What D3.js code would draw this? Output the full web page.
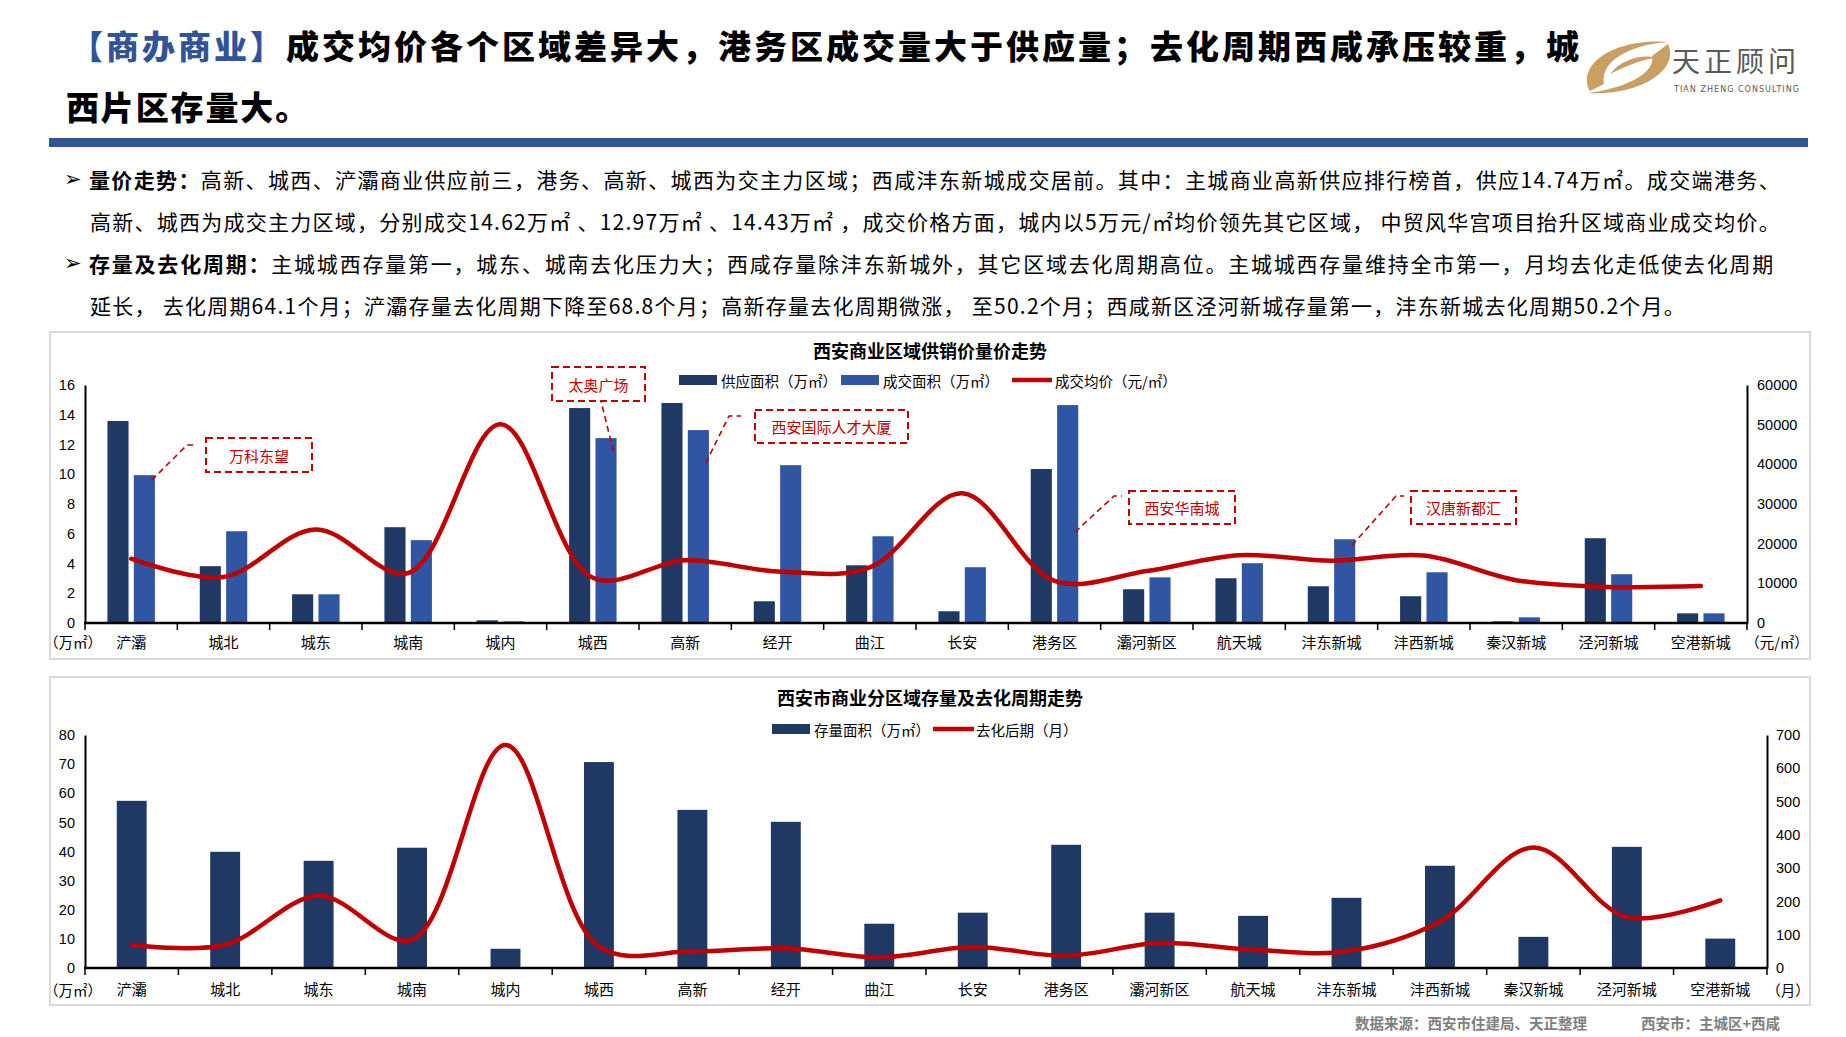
<!DOCTYPE html>
<html><head><meta charset="utf-8">
<script src="https://cdn.jsdelivr.net/npm/d3@7"></script>
<style>
body{margin:0;background:#fff}
svg{display:block}
text{font-family:"Noto Sans CJK SC","Noto Sans",sans-serif}
</style>
</head><body>
<svg id="c" width="1846" height="1037"></svg>
<script>
// ---------------- data ----------------
const categories = ["浐灞","城北","城东","城南","城内","城西","高新","经开","曲江","长安","港务区","灞河新区","航天城","沣东新城","沣西新城","秦汉新城","泾河新城","空港新城"];
const supplyArea = [13.58,3.82,1.93,6.44,0.18,14.45,14.79,1.46,3.88,0.79,10.35,2.27,3.01,2.47,1.80,0.11,5.70,0.65];
const dealArea   = [9.94,6.17,1.93,5.57,0.11,12.43,12.97,10.61,5.83,3.75,14.65,3.07,4.02,5.63,3.41,0.38,3.28,0.65];
const dealPrice  = [16200,11600,23600,12600,50100,11400,15800,13000,14000,32700,10600,13100,17100,15700,17000,10800,9100,9300];
const stockArea  = [57.4,39.9,36.8,41.3,6.6,70.7,54.3,50.2,15.2,19.0,42.3,19.0,17.9,24.1,35.1,10.7,41.6,10.1];
const clearCycle = [68.8,70,217,85,670,64.1,50.2,59,32,63,37,75,55,50.2,140,362,153,203];

const topLeftTicks  = [0,2,4,6,8,10,12,14,16];
const topRightTicks = [0,10000,20000,30000,40000,50000,60000];
const botLeftTicks  = [0,10,20,30,40,50,60,70,80];
const botRightTicks = [0,100,200,300,400,500,600,700];

const annotations = [
  {text:"万科东望", cat:"浐灞", series:"deal"},
  {text:"太奥广场", cat:"城西", series:"deal"},
  {text:"西安国际人才大厦", cat:"高新", series:"deal"},
  {text:"西安华南城", cat:"港务区", series:"deal"},
  {text:"汉唐新都汇", cat:"沣东新城", series:"deal"}
];

const titleBlue = "【商办商业】";
const titleRest1 = "成交均价各个区域差异大，港务区成交量大于供应量；去化周期西咸承压较重，城";
const titleLine2 = "西片区存量大。";
const bullets = [
  {bold:"量价走势：", text:"高新、城西、浐灞商业供应前三，港务、高新、城西为交主力区域；西咸沣东新城成交居前。其中：主城商业高新供应排行榜首，供应14.74万㎡。成交端港务、"},
  {bold:"", text:"高新、城西为成交主力区域，分别成交14.62万㎡ 、12.97万㎡ 、14.43万㎡ ，成交价格方面，城内以5万元/㎡均价领先其它区域， 中贸风华宫项目抬升区域商业成交均价。"},
  {bold:"存量及去化周期：", text:"主城城西存量第一，城东、城南去化压力大；西咸存量除沣东新城外，其它区域去化周期高位。主城城西存量维持全市第一，月均去化走低使去化周期"},
  {bold:"", text:"延长， 去化周期64.1个月；浐灞存量去化周期下降至68.8个月；高新存量去化周期微涨， 至50.2个月；西咸新区泾河新城存量第一，沣东新城去化周期50.2个月。"}
];

// ---------------- styles / layout ----------------
const C_SUP = "#1F3864", C_DEAL = "#2F55A3", C_LINE = "#C00000", C_BLUE = "#2F5597";
const svg = d3.select("#c");

function fitWidth(t, target){
  const w = t.node().getComputedTextLength();
  const n = t.text().length;
  t.style("letter-spacing", ((target - w) / n) + "px");
}

// ---------------- header ----------------
const t1 = svg.append("text").attr("x",70).attr("y",44.5).attr("dominant-baseline","central")
  .style("font-size","33px").style("font-weight","900");
t1.append("tspan").attr("fill",C_BLUE).text(titleBlue);
t1.append("tspan").attr("fill","#000").text(titleRest1);
fitWidth(t1, 1512);
const t2 = svg.append("text").attr("x",66).attr("y",105.5).attr("dominant-baseline","central")
  .style("font-size","33px").style("font-weight","900").attr("fill","#000").text(titleLine2);
fitWidth(t2, 244);

svg.append("rect").attr("x",49).attr("y",138).attr("width",1759).attr("height",9).attr("fill",C_BLUE);

// logo
const logo = svg.append("g");
logo.append("path").attr("fill","#C9A063")
  .attr("d","M1590,91 C1576,66 1612,38 1668,42 C1628,45 1600,62 1604,84 Z");
logo.append("path").attr("fill","#C9A063")
  .attr("d","M1668,44 C1680,70 1640,96 1588,93 C1628,88 1656,72 1652,56 Z");
logo.append("path").attr("fill","#C9A063")
  .attr("d","M1610,74 C1622,58 1646,54 1654,58 C1638,61 1624,67 1610,74 Z");
const lg = logo.append("text").attr("x",1672).attr("y",60).attr("dominant-baseline","central")
  .attr("fill","#595959").style("font-size","28px").text("天正顾问");
fitWidth(lg, 128);
const lt = logo.append("text").attr("x",1674).attr("y",89).attr("dominant-baseline","central")
  .attr("fill","#595959").style("font-size","8px").style("font-family","'DejaVu Sans'").text("TIAN ZHENG CONSULTING");
fitWidth(lt, 126);

// bullets
const bulletY = [178.5, 220.5, 262.5, 304.5];
const bulletEnd = [1781, 1781, 1775, 1686];
bullets.forEach((b,i)=>{
  if (b.bold) {
    svg.append("text").attr("x",64).attr("y",bulletY[i]).attr("dominant-baseline","central")
      .style("font-family","'DejaVu Sans'").style("font-size","21px").attr("fill","#000").text("➢");
  }
  const t = svg.append("text").attr("x",b.bold?89:90).attr("y",bulletY[i]).attr("dominant-baseline","central")
    .style("font-size","21px").attr("fill","#000");
  if (b.bold) t.append("tspan").style("font-weight","bold").text(b.bold);
  t.append("tspan").text(b.text);
  fitWidth(t, bulletEnd[i] - (b.bold?89:90));
});

// ---------------- chart frames ----------------
svg.append("rect").attr("x",50).attr("y",332).attr("width",1760).attr("height",327)
  .attr("fill","none").attr("stroke","#D9D9D9").attr("stroke-width",2);
svg.append("rect").attr("x",50).attr("y",677).attr("width",1760).attr("height",328)
  .attr("fill","none").attr("stroke","#D9D9D9").attr("stroke-width",2);

// ================= TOP CHART =================
const T = {left:85, right:1747, top:385, bottom:623};
const xT = d3.scaleBand().domain(categories).range([T.left,T.right]).padding(0);
const xTs = d3.scaleBand().domain(["supply","deal"]).range([0,xT.bandwidth()]).paddingInner(0.2).paddingOuter(0.85);
const yTL = d3.scaleLinear().domain([0,16]).range([T.bottom,T.top]);
const yTR = d3.scaleLinear().domain([0,60000]).range([T.bottom,T.top]);

const gT = svg.append("g");
categories.forEach((c,i)=>{
  gT.append("rect").attr("x",xT(c)+xTs("supply")).attr("y",yTL(supplyArea[i]))
    .attr("width",xTs.bandwidth()).attr("height",yTL(0)-yTL(supplyArea[i])).attr("fill",C_SUP);
  gT.append("rect").attr("x",xT(c)+xTs("deal")).attr("y",yTL(dealArea[i]))
    .attr("width",xTs.bandwidth()).attr("height",yTL(0)-yTL(dealArea[i])).attr("fill",C_DEAL);
});

// axes
function styleAxis(g){
  g.selectAll("text").style("font-family","'Liberation Sans',Arial,sans-serif").style("font-size","14.5px").attr("fill","#000");
  g.select(".domain").attr("stroke","#000").attr("stroke-width",2);
}
const fmt = d3.format("d");
const axTL = gT.append("g").attr("transform",`translate(${T.left},0)`)
  .call(d3.axisLeft(yTL).tickValues(topLeftTicks).tickFormat(fmt).tickSize(0).tickPadding(10));
styleAxis(axTL);
const axTR = gT.append("g").attr("transform",`translate(${T.right},0)`)
  .call(d3.axisRight(yTR).tickValues(topRightTicks).tickFormat(fmt).tickSize(0).tickPadding(10));
styleAxis(axTR);

function xAxisBands(g, x, y0, labY){
  const edges = x.domain().map(d=>x(d)).concat([x.range()[1]]);
  g.append("g").selectAll("line").data(edges).join("line")
    .attr("x1",d=>d).attr("x2",d=>d).attr("y1",y0).attr("y2",y0+7).attr("stroke","#000").attr("stroke-width",1.5);
  g.append("line").attr("x1",x.range()[0]-1).attr("x2",x.range()[1]+1).attr("y1",y0).attr("y2",y0)
    .attr("stroke","#000").attr("stroke-width",2.5);
  g.append("g").selectAll("text").data(x.domain()).join("text")
    .attr("x",d=>x(d)+x.bandwidth()/2).attr("y",labY).attr("text-anchor","middle").attr("dominant-baseline","central")
    .style("font-size","15px").attr("fill","#000").text(d=>d);
}
xAxisBands(gT, xT, T.bottom, 641);
gT.append("text").attr("x",73).attr("y",641).attr("text-anchor","middle").attr("dominant-baseline","central")
  .style("font-size","14.5px").text("（万㎡）");
gT.append("text").attr("x",1777).attr("y",641).attr("text-anchor","middle").attr("dominant-baseline","central")
  .style("font-size","14.5px").text("（元/㎡）");

// price line
const lineT = d3.line().x((d,i)=>xT(categories[i])+xT.bandwidth()/2).y(d=>yTR(d)).curve(d3.curveCatmullRom.alpha(0.5));
gT.append("path").datum(dealPrice).attr("d",lineT).attr("fill","none").attr("stroke",C_LINE)
  .attr("stroke-width",4.5).attr("stroke-linecap","round");

// title + legend
gT.append("text").attr("x",930).attr("y",350).attr("text-anchor","middle").attr("dominant-baseline","central")
  .style("font-size","18px").style("font-weight","bold").text("西安商业区域供销价量价走势");
gT.append("rect").attr("x",679).attr("y",375).attr("width",38).attr("height",10).attr("fill",C_SUP);
gT.append("text").attr("x",721).attr("y",380).attr("dominant-baseline","central").style("font-size","14.5px").text("供应面积（万㎡）");
gT.append("rect").attr("x",841).attr("y",375).attr("width",38).attr("height",10).attr("fill",C_DEAL);
gT.append("text").attr("x",883).attr("y",380).attr("dominant-baseline","central").style("font-size","14.5px").text("成交面积（万㎡）");
gT.append("line").attr("x1",1012).attr("x2",1052).attr("y1",380).attr("y2",380).attr("stroke",C_LINE).attr("stroke-width",4.5);
gT.append("text").attr("x",1055).attr("y",380).attr("dominant-baseline","central").style("font-size","14.5px").text("成交均价（元/㎡）");

// annotations: box layout (pixel placement of callout boxes)
const annLayout = [
  {bx:206, by:438, bw:106, bh:34, anchorDY:5,  elbow:[[187,445],[197,445]]},
  {bx:552, by:367, bw:93,  bh:34, anchorDY:13, elbow:[[601,401]]},
  {bx:755, by:410, bw:153, bh:33, anchorDY:33, elbow:[[729,416],[741,416]]},
  {bx:1129,by:491, bw:106, bh:33, anchorDY:127,elbow:[[1114,496],[1122,496]]},
  {bx:1411,by:491, bw:105, bh:33, anchorDY:6,  elbow:[[1396,496],[1404,496]]}
];
annotations.forEach((a,k)=>{
  const L = annLayout[k];
  const i = categories.indexOf(a.cat);
  const ax = xT(a.cat)+xTs(a.series)+xTs.bandwidth()*0.85;
  const ay = yTL(dealArea[i]) + L.anchorDY;
  const pts = [[ax,ay]].concat(L.elbow);
  gT.append("path").attr("d",d3.line()(pts)).attr("fill","none").attr("stroke",C_LINE)
    .attr("stroke-width",1.6).attr("stroke-dasharray","6,4");
  gT.append("rect").attr("x",L.bx).attr("y",L.by).attr("width",L.bw).attr("height",L.bh)
    .attr("fill","none").attr("stroke",C_LINE).attr("stroke-width",2).attr("stroke-dasharray","7,4");
  gT.append("text").attr("x",L.bx+L.bw/2).attr("y",L.by+L.bh/2).attr("text-anchor","middle").attr("dominant-baseline","central")
    .style("font-size","15px").attr("fill",C_LINE).text(a.text);
});

// ================= BOTTOM CHART =================
const B = {left:85, right:1767, top:735, bottom:968};
const xB = d3.scaleBand().domain(categories).range([B.left,B.right]).padding(0);
const yBL = d3.scaleLinear().domain([0,80]).range([B.bottom,B.top]);
const yBR = d3.scaleLinear().domain([0,700]).range([B.bottom,B.top]);
const gB = svg.append("g");
const barW = xB.bandwidth()*0.32;
gB.selectAll("rect.stock").data(stockArea).join("rect").attr("class","stock")
  .attr("x",(d,i)=>xB(categories[i])+xB.bandwidth()/2-barW/2).attr("y",d=>yBL(d))
  .attr("width",barW).attr("height",d=>yBL(0)-yBL(d)).attr("fill",C_SUP);

const axBL = gB.append("g").attr("transform",`translate(${B.left},0)`)
  .call(d3.axisLeft(yBL).tickValues(botLeftTicks).tickFormat(fmt).tickSize(0).tickPadding(10));
styleAxis(axBL);
const axBR = gB.append("g").attr("transform",`translate(${B.right},0)`)
  .call(d3.axisRight(yBR).tickValues(botRightTicks).tickFormat(fmt).tickSize(0).tickPadding(9));
styleAxis(axBR);
xAxisBands(gB, xB, B.bottom, 988);
gB.append("text").attr("x",73).attr("y",989).attr("text-anchor","middle").attr("dominant-baseline","central")
  .style("font-size","14.5px").text("（万㎡）");
gB.append("text").attr("x",1788).attr("y",989).attr("text-anchor","middle").attr("dominant-baseline","central")
  .style("font-size","14.5px").text("（月）");

const lineB = d3.line().x((d,i)=>xB(categories[i])+xB.bandwidth()/2).y(d=>yBR(d)).curve(d3.curveCatmullRom.alpha(0.5));
gB.append("path").datum(clearCycle).attr("d",lineB).attr("fill","none").attr("stroke",C_LINE)
  .attr("stroke-width",4.5).attr("stroke-linecap","round");

gB.append("text").attr("x",930).attr("y",697).attr("text-anchor","middle").attr("dominant-baseline","central")
  .style("font-size","18px").style("font-weight","bold").text("西安市商业分区域存量及去化周期走势");
gB.append("rect").attr("x",772).attr("y",724).attr("width",38).attr("height",10).attr("fill",C_SUP);
gB.append("text").attr("x",814).attr("y",729).attr("dominant-baseline","central").style("font-size","14.5px").text("存量面积（万㎡）");
gB.append("line").attr("x1",933).attr("x2",974).attr("y1",729).attr("y2",729).attr("stroke",C_LINE).attr("stroke-width",4.5);
gB.append("text").attr("x",976).attr("y",729).attr("dominant-baseline","central").style("font-size","14.5px").text("去化后期（月）");

// footer
svg.append("text").attr("x",1355).attr("y",1022).attr("dominant-baseline","central")
  .style("font-size","14.5px").style("font-weight","bold").attr("fill","#7F7F7F").text("数据来源：西安市住建局、天正整理");
svg.append("text").attr("x",1641).attr("y",1022).attr("dominant-baseline","central")
  .style("font-size","14.5px").style("font-weight","bold").attr("fill","#7F7F7F").text("西安市：主城区+西咸");
</script>
</body></html>
